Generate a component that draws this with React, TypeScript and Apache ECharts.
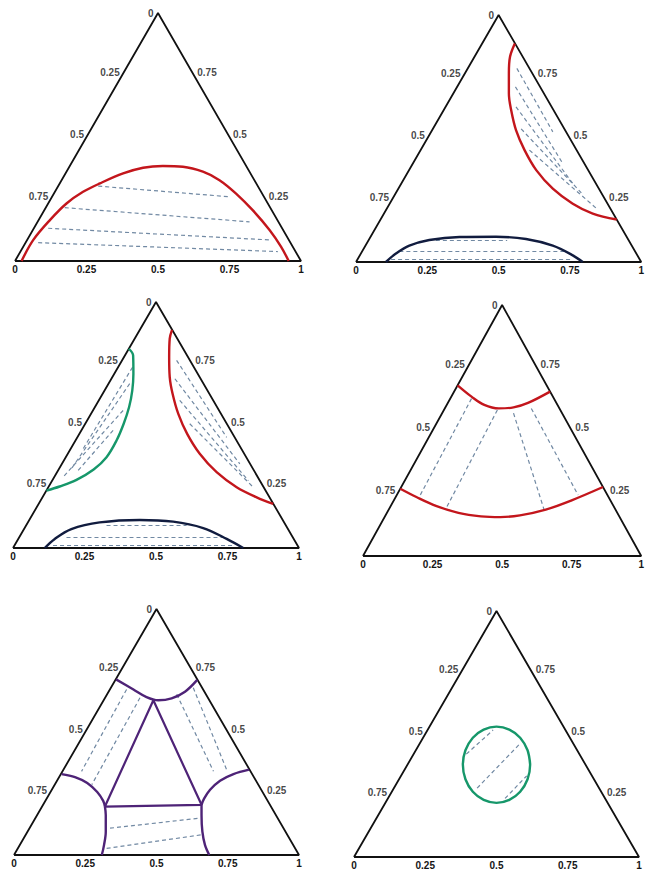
import React, { useEffect, useRef } from "react";
import * as echarts from "echarts";

// ---- tick labels ----
const BASE_TICKS = [0, 0.25, 0.5, 0.75, 1];
const LEFT_TICKS = [0.25, 0.5, 0.75]; // top -> bottom-left
const RIGHT_TICKS = [0.75, 0.5, 0.25]; // top -> bottom-right
const APEX_LABEL = "0";

// ---- data: points are [position along base, fraction of triangle height] ----
const TRIANGLE = [[0, 0], [1, 0], [0.5, 1], [0, 0]];

// Panel 1
const P1_RED = [[0.023, 0], [0.064, 0.085], [0.122, 0.165], [0.18, 0.232], [0.238, 0.279], [0.297, 0.313], [0.378, 0.353], [0.448, 0.376], [0.517, 0.383], [0.587, 0.38], [0.657, 0.36], [0.715, 0.326], [0.773, 0.272], [0.831, 0.205], [0.89, 0.125], [0.93, 0.058], [0.957, 0]];
const P1_TIES = [[[0.291, 0.302], [0.75, 0.259]], [[0.174, 0.215], [0.82, 0.158]], [[0.116, 0.132], [0.89, 0.085]], [[0.081, 0.074], [0.919, 0.038]]];

// Panel 2
const P2_RED = [[0.557, 0.885], [0.540, 0.831], [0.536, 0.764], [0.536, 0.682], [0.544, 0.615], [0.561, 0.534], [0.591, 0.453], [0.632, 0.372], [0.690, 0.297], [0.760, 0.236], [0.830, 0.196], [0.914, 0.172]];
const P2_BLUE = [[0.105, 0], [0.140, 0.034], [0.187, 0.066], [0.257, 0.089], [0.363, 0.101], [0.491, 0.102], [0.596, 0.093], [0.690, 0.066], [0.760, 0.027], [0.795, 0]];
const P2_RED_TIES = [[[0.564, 0.784], [0.690, 0.527]], [[0.559, 0.709], [0.725, 0.399]], [[0.561, 0.628], [0.760, 0.318]], [[0.579, 0.539], [0.79, 0.28]], [[0.608, 0.453], [0.845, 0.215]]];
const P2_BLUE_TIES = [[[0.28, 0.09], [0.53, 0.09]], [[0.152, 0.045], [0.737, 0.045]], [[0.123, 0.01], [0.76, 0.01]]];

// Panel 3
const P3_GREEN = [[0.405, 0.81], [0.420, 0.783], [0.421, 0.708], [0.417, 0.640], [0.406, 0.573], [0.387, 0.505], [0.362, 0.437], [0.327, 0.369], [0.282, 0.319], [0.222, 0.277], [0.163, 0.250], [0.117, 0.233]];
const P3_RED = [[0.556, 0.887], [0.548, 0.851], [0.546, 0.776], [0.548, 0.695], [0.558, 0.627], [0.578, 0.545], [0.609, 0.464], [0.653, 0.383], [0.712, 0.308], [0.782, 0.247], [0.852, 0.206], [0.910, 0.179]];
const P3_BLUE = [[0.111, 0], [0.146, 0.037], [0.204, 0.077], [0.303, 0.104], [0.443, 0.114], [0.560, 0.107], [0.665, 0.081], [0.747, 0.037], [0.805, 0]];
const P3_GREEN_TIES = [[[0.418, 0.735], [0.245, 0.403]], [[0.408, 0.668], [0.204, 0.322]], [[0.385, 0.559], [0.175, 0.288]], [[0.35, 0.478], [0.222, 0.308]]];
const P3_RED_TIES = [[[0.572, 0.763], [0.747, 0.450]], [[0.566, 0.688], [0.793, 0.342]], [[0.583, 0.600], [0.823, 0.274]], [[0.618, 0.505], [0.840, 0.247]]];
const P3_BLUE_TIES = [[[0.327, 0.091], [0.607, 0.091]], [[0.187, 0.043], [0.747, 0.043]], [[0.14, 0.01], [0.77, 0.01]]];

// Panel 4
const P4_UPPER = [[0.34, 0.68], [0.39, 0.635], [0.436, 0.602], [0.488, 0.588], [0.541, 0.592], [0.593, 0.61], [0.6725, 0.655]];
const P4_LOWER = [[0.134, 0.268], [0.192, 0.235], [0.262, 0.2], [0.343, 0.172], [0.424, 0.158], [0.494, 0.155], [0.564, 0.162], [0.657, 0.185], [0.75, 0.222], [0.8625, 0.275]];
const P4_TIES = [[[0.39, 0.627], [0.203, 0.237]], [[0.483, 0.582], [0.302, 0.197]], [[0.541, 0.569], [0.651, 0.184]], [[0.605, 0.588], [0.773, 0.243]]];

// Panel 5
const P5_TOP = [[0.358, 0.714], [0.419, 0.673], [0.465, 0.642], [0.506, 0.629], [0.553, 0.637], [0.600, 0.664], [0.643, 0.712]];
const P5_LEFT_ARC = [[0.167, 0.329], [0.214, 0.317], [0.257, 0.293], [0.292, 0.256], [0.313, 0.220], [0.319, 0.197]];
const P5_LEFT_LEG = [[0.319, 0.197], [0.322, 0.163], [0.322, 0.095], [0.316, 0.041], [0.308, 0]];
const P5_RIGHT_ARC = [[0.825, 0.347], [0.770, 0.329], [0.723, 0.302], [0.688, 0.265], [0.667, 0.229], [0.658, 0.204]];
const P5_RIGHT_LEG = [[0.658, 0.204], [0.658, 0.163], [0.661, 0.095], [0.670, 0.041], [0.685, 0]];
const P5_INNER = [[0.489, 0.629], [0.319, 0.197], [0.658, 0.204], [0.489, 0.629]];
const P5_TIES = [[[0.395, 0.673], [0.237, 0.340]], [[0.442, 0.639], [0.273, 0.286]], [[0.571, 0.653], [0.700, 0.340]], [[0.629, 0.680], [0.746, 0.347]], [[0.337, 0.109], [0.653, 0.150]], [[0.325, 0.027], [0.658, 0.082]]];

// Panel 6
const P6_LOOP = [[0.618, 0.375], [0.609, 0.434], [0.583, 0.485], [0.545, 0.518], [0.5, 0.530], [0.455, 0.518], [0.417, 0.485], [0.391, 0.434], [0.382, 0.375], [0.391, 0.316], [0.417, 0.265], [0.455, 0.232], [0.5, 0.220], [0.545, 0.232], [0.583, 0.265], [0.609, 0.316], [0.618, 0.375], [0.609, 0.434]];
const P6_TIES = [[[0.394, 0.418], [0.488, 0.516]], [[0.432, 0.28], [0.582, 0.46]], [[0.53, 0.238], [0.606, 0.33]]];

// ---- layout (pixels) ----
const PANELS = [
  { left: 15, top: 13, width: 286, height: 248 },
  { left: 356, top: 15, width: 286, height: 247 },
  { left: 13, top: 302, width: 286, height: 246 },
  { left: 363, top: 305, width: 290, height: 251 },
  { left: 14, top: 609, width: 285, height: 246 },
  { left: 354, top: 611, width: 285, height: 248 },
];

const RED = "#c3161c";
const NAVY = "#111c3f";
const GREEN = "#16976a";
const PURPLE = "#4e2377";
const TIE = "#7189a3";
const FONT = "'Liberation Sans', Arial, sans-serif";

const CONTENT: { curves: [number[][], string][]; ties: [number[][][], string][] }[] = [
  { curves: [[P1_RED, RED]], ties: [[P1_TIES, TIE]] },
  { curves: [[P2_RED, RED], [P2_BLUE, NAVY]], ties: [[P2_RED_TIES, TIE], [P2_BLUE_TIES, TIE]] },
  { curves: [[P3_GREEN, GREEN], [P3_RED, RED], [P3_BLUE, NAVY]], ties: [[P3_GREEN_TIES, TIE], [P3_RED_TIES, TIE], [P3_BLUE_TIES, TIE]] },
  { curves: [[P4_UPPER, RED], [P4_LOWER, RED]], ties: [[P4_TIES, TIE]] },
  { curves: [[P5_TOP, PURPLE], [P5_LEFT_ARC, PURPLE], [P5_LEFT_LEG, PURPLE], [P5_RIGHT_ARC, PURPLE], [P5_RIGHT_LEG, PURPLE]], ties: [[P5_TIES, TIE]] },
  { curves: [[P6_LOOP, GREEN]], ties: [[P6_TIES, TIE]] },
];

const labelStyle = { fontSize: 10, fontWeight: "bold" as const, color: "#151515", fontFamily: FONT };

function buildOption() {
  const series: any[] = [];
  PANELS.forEach((_, i) => {
    const ax = { xAxisIndex: i, yAxisIndex: i };
    series.push({
      type: "line", ...ax, data: TRIANGLE, symbol: "none", clip: false, silent: true, z: 3,
      lineStyle: { color: "#111", width: 1.8 },
    });
    CONTENT[i].ties.forEach(([pairs, color]) => {
      series.push({
        type: "lines", coordinateSystem: "cartesian2d", ...ax, z: 2, silent: true,
        data: pairs.map((c) => ({ coords: c })),
        lineStyle: { color, width: 1.2, type: [4, 3], opacity: 1 },
      });
    });
    CONTENT[i].curves.forEach(([pts, color]) => {
      series.push({
        type: "line", ...ax, data: pts, symbol: "none", smooth: 0.35, clip: false, silent: true, z: 4,
        lineStyle: { color, width: 2.4 },
      });
    });
    if (i === 4) {
      series.push({
        type: "line", ...ax, data: P5_INNER, symbol: "none", clip: false, silent: true, z: 4,
        lineStyle: { color: PURPLE, width: 2.2 },
      });
    }
    const mk = (x: number, y: number, text: string) => ({ value: [x, y], label: { formatter: text } });
    series.push({
      type: "scatter", ...ax, symbolSize: 1, itemStyle: { color: "rgba(0,0,0,0)" }, silent: true,
      data: LEFT_TICKS.map((v) => mk((1 - v) / 2, 1 - v, String(v))),
      label: { show: true, position: "left", distance: 2, offset: [0, -3], ...labelStyle },
    });
    series.push({
      type: "scatter", ...ax, symbolSize: 1, itemStyle: { color: "rgba(0,0,0,0)" }, silent: true,
      data: RIGHT_TICKS.map((v) => mk(1 - v / 2, v, String(v))),
      label: { show: true, position: "right", distance: 3, offset: [0, -3], ...labelStyle },
    });
    series.push({
      type: "scatter", ...ax, symbolSize: 1, itemStyle: { color: "rgba(0,0,0,0)" }, silent: true,
      data: [mk(0.5, 1, APEX_LABEL)],
      label: { show: true, position: "left", distance: 4, offset: [0, 0], ...labelStyle },
    });
  });

  return {
    animation: false,
    backgroundColor: "#ffffff",
    grid: PANELS.map((p) => ({ ...p, containLabel: false })),
    xAxis: PANELS.map((_, i) => ({
      type: "value", gridIndex: i, min: BASE_TICKS[0], max: BASE_TICKS[BASE_TICKS.length - 1],
      interval: BASE_TICKS[1] - BASE_TICKS[0],
      axisLine: { show: false }, axisTick: { show: false }, splitLine: { show: false },
      axisLabel: { show: true, margin: 3, ...labelStyle, formatter: (v: number) => String(v) },
    })),
    yAxis: PANELS.map((_, i) => ({
      type: "value", gridIndex: i, min: 0, max: 1, show: false,
      splitLine: { show: false },
    })),
    series,
  };
}

export default function App() {
  const ref = useRef<HTMLDivElement>(null);
  useEffect(() => {
    if (!ref.current) return;
    const chart = echarts.init(ref.current, undefined, { renderer: "svg" });
    chart.setOption(buildOption() as any);
    return () => chart.dispose();
  }, []);
  return (
    <div
      ref={ref}
      style={{ position: "absolute", left: 0, top: 0, width: 647, height: 870, background: "#fff" }}
    />
  );
}
